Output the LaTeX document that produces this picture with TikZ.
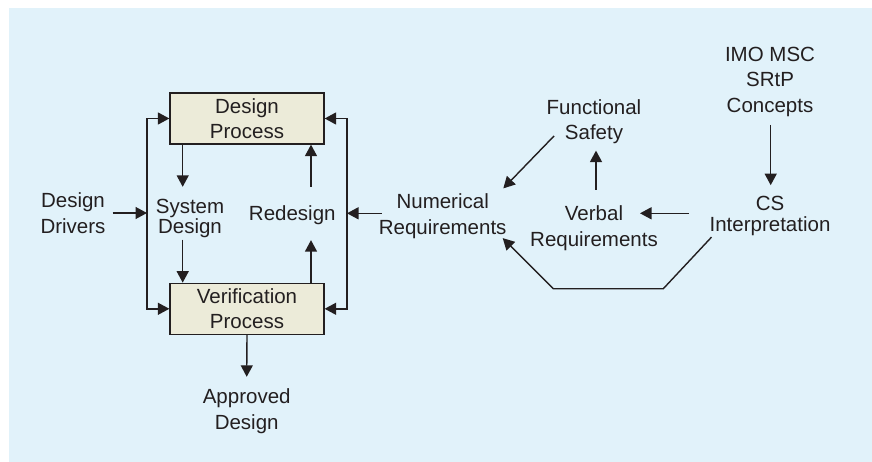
\documentclass[tikz,border=0pt]{standalone}
\usepackage{fontspec}
\setmainfont{Liberation Sans}
\usetikzlibrary{arrows.meta,calc}
\definecolor{bgblue}{HTML}{E1F2FA}
\definecolor{boxfill}{HTML}{ECEBD9}
\definecolor{ink}{HTML}{231F20}
\begin{document}
\begin{tikzpicture}[x=1pt,y=-1pt,
  lbl/.style={align=center,inner sep=0pt,text=ink,font=\fontsize{20.5}{25.5}\selectfont},
  procbox/.style={lbl,draw=ink,fill=boxfill,line width=1.3pt,minimum width=154pt,minimum height=51pt},
  arr/.style={draw=ink,line width=1.4pt,-{Triangle[length=11.5pt,width=12pt]}}]
\useasboundingbox (0,0) rectangle (872,462);
\fill[bgblue] (9,8) rectangle (872,462);

% process boxes and labels
\node[procbox] (dp) at (247,118.5) {Design\\Process};
\node[procbox] (vp) at (247,308.8) {Verification\\Process};
\node[lbl] (dd) at (73,213) {Design\\Drivers};
\node[lbl,font=\fontsize{20.5}{19.4}\selectfont] (sd) at (190,218.5) {System\\Design};
\node[lbl] (rd) at (292.3,215) {Redesign};
\node[lbl] (ad) at (246.7,411.3) {Approved\\Design};
\node[lbl] (nr) at (442.7,216.3) {Numerical\\Requirements};
\node[lbl] (fs) at (594,121.9) {Functional\\Safety};
\node[lbl] (vr) at (594,228) {Verbal\\Requirements};
\node[lbl] (imo) at (770,81.7) {IMO MSC\\SRtP\\Concepts};
\node[lbl,font=\fontsize{20.5}{20.7}\selectfont] (cs) at (770,215.8) {CS\\Interpretation};

% junctions and bends
\coordinate (lm) at (147,213.3);
\coordinate (rm) at (347,213.3);
\coordinate (xs) at (182.7,0);
\coordinate (xr) at (311,0);
\coordinate (bendr) at (663.3,288.7);
\coordinate (bendl) at (553.3,288.7);

% left feed into both processes
\draw[arr] ($(dd.east)+(7,0)$) -- (dd.east -| lm);
\draw[arr] (lm) |- (dp.west);
\draw[arr] (lm) |- (vp.west);
% right feed into both processes
\draw[arr] (rm) |- (dp.east);
\draw[arr] (rm) |- (vp.east);
\draw[arr] ($(nr.west |- rm)+(3,0)$) -- (rm);

% inner loop
\draw[arr] (dp.south -| xs) -- ($(sd.north -| xs)+(0,-12.5)$);
\draw[arr] ($(sd.south -| xs)+(0,2)$) -- (vp.north -| xs);
\draw[arr] ($(rd.north -| xr)+(0,-18.7)$) -- (dp.south -| xr);
\draw[arr] (vp.north -| xr) -- ($(rd.south -| xr)+(0,15.4)$);
\draw[arr] (vp.south) -- ($(ad.north)+(0,-12)$);

% requirements chain
\draw[arr] ($(fs.south west)+(7.6,-8.5)$) -- ($(nr.north east)+(-3.4,-5.4)$);
\draw[arr] ($(vr.north)+(2,-15.9)$) -- ($(fs.south)+(2,6.2)$);
\draw[arr] ($(cs.west)+(-20.3,-2.5)$) -- ($(vr.center)+(46,-14.7)$);
\draw[arr] ($(imo.south)+(0.7,8.2)$) -- ($(cs.north)+(0.7,-10.8)$);
\draw[arr] ($(cs.south west)+(2.1,1.5)$) -- (bendr) -- (bendl) -- ($(nr.south east)+(-4,-0.7)$);
\end{tikzpicture}
\end{document}
